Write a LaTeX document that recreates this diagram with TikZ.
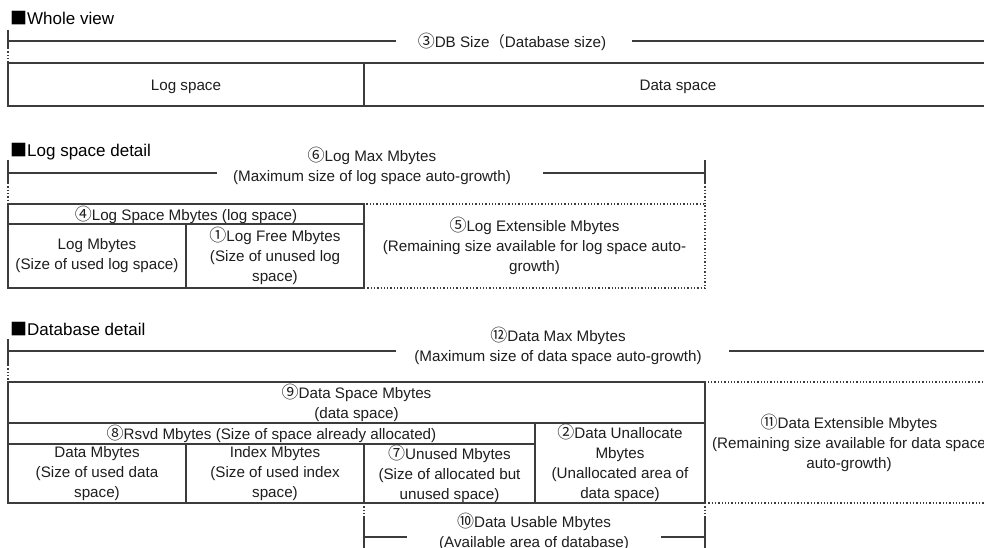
\documentclass[tikz,border=0pt]{standalone}
\usepackage{fontspec}
\setmainfont{Liberation Sans}
\newfontfamily\cjk{Noto Sans CJK JP}
\usetikzlibrary{positioning}
\definecolor{LineGray}{RGB}{60,60,60}
\definecolor{InkGray}{RGB}{30,30,30}
\newcommand{\dbfont}{\fontsize{15.2pt}{20pt}\selectfont}
\newcommand{\dbhead}{\fontsize{17pt}{20pt}\selectfont}
\newcommand{\cn}[1]{{\cjk\fontsize{17pt}{20pt}\selectfont #1}}
\newcommand{\sq}{{\cjk ■}}
\tikzset{
  cell/.style={draw=LineGray,line width=1.3pt,inner sep=0pt,align=center,
    text=InkGray,font=\dbfont,execute at begin node={\rule{0pt}{15.5pt}}},
  spare/.style={draw=LineGray,line width=1.3pt,dotted,inner sep=0pt,
    align=center,text=InkGray,font=\dbfont,
    execute at begin node={\rule{0pt}{15.5pt}}},
  dimtext/.style={inner sep=0pt,align=center,text=InkGray,font=\dbfont},
  heading/.style={anchor=west,inner sep=0pt,text=black,font=\dbhead},
  dim/.style={draw=LineGray,line width=1.3pt},
  dimdot/.style={draw=LineGray,line width=1.3pt,dotted}
}

\begin{document}
\begin{tikzpicture}[x=1pt,y=-1pt]
\useasboundingbox (0,0) rectangle (984,548);
\clip (0,0) rectangle (984,548);
\fill[white] (0,0) rectangle (984,548);

% Whole view
\node[heading] (hwhole) at (10,18) {\sq Whole view};
\node[dimtext] (dbsize) at (512,42) {\cn{③}DB Size{\cjk （}Database size)};
\coordinate (dbL) at (396,41);
\coordinate (dbR) at (632,41);
\draw[dim] (8,30) -- (8,48);
\draw[dimdot] (8,48) -- (8,63);
\draw[dim] (8,41) -- (dbL);
\draw[dim] (dbR) -- (1000,41);
\node[cell,minimum width=356pt,minimum height=43pt] (logsp) at (186,84.5) {Log space};
\node[cell,minimum width=628pt,minimum height=43pt] (datasp) at (678,84.5) {Data space};

% Log space detail
\node[heading] (hlog) at (10,152) {\sq Log space detail};
\node[dimtext] (logmax) at (372,166)
  {\cn{⑥}Log Max Mbytes\\(Maximum size of log space auto-growth)};
\coordinate (lmL) at (217,173);
\coordinate (lmR) at (543,173);
\foreach \x in {8,705}{
  \draw[dim] (\x,160) -- (\x,183);
  \draw[dimdot] (\x,183) -- (\x,204);
}
\draw[dim] (8,173) -- (lmL);
\draw[dim] (lmR) -- (705,173);
\node[spare,minimum width=341pt,minimum height=84pt] (logext) at (534.5,246)
  {\cn{⑤}Log Extensible Mbytes\\(Remaining size available for log space auto-\\growth)};
\node[cell,minimum width=356pt,minimum height=20pt] (logspc) at (186,214)
  {\cn{④}Log Space Mbytes (log space)};
\node[cell,minimum width=178pt,minimum height=64pt] (logmb) at (97,256)
  {Log Mbytes\\(Size of used log space)};
\node[cell,minimum width=178pt,minimum height=64pt] (logfree) at (275,256)
  {\cn{①}Log Free Mbytes\\(Size of unused log\\space)};

% Database detail
\node[heading] (hdb) at (10,329) {\sq Database detail};
\node[dimtext] (datamax) at (558,346)
  {\cn{⑫}Data Max Mbytes\\(Maximum size of data space auto-growth)};
\coordinate (dmL) at (396,351);
\coordinate (dmR) at (729,351);
\draw[dim] (8,339) -- (8,365);
\draw[dimdot] (8,365) -- (8,382);
\draw[dim] (8,351) -- (dmL);
\draw[dim] (dmR) -- (1000,351);
\node[spare,minimum width=288pt,minimum height=121pt] (dataext) at (849,442.5)
  {\cn{⑪}Data Extensible Mbytes\\(Remaining size available for data space\\auto-growth)};
\node[cell,minimum width=697pt,minimum height=41pt] (dataspc) at (356.5,402.5)
  {\cn{⑨}Data Space Mbytes\\(data space)};
\node[cell,minimum width=527pt,minimum height=21pt] (rsvd) at (271.5,433.5)
  {\cn{⑧}Rsvd Mbytes (Size of space already allocated)};
\node[cell,minimum width=178pt,minimum height=59pt] (datamb) at (97,473.5)
  {Data Mbytes\\(Size of used data\\space)};
\node[cell,minimum width=178pt,minimum height=59pt] (indexmb) at (275,473.5)
  {Index Mbytes\\(Size of used index\\space)};
\node[cell,minimum width=171pt,minimum height=59pt] (unused) at (449.5,473.5)
  {\cn{⑦}Unused Mbytes\\(Size of allocated but\\unused space)};
\node[cell,minimum width=170pt,minimum height=80pt] (unalloc) at (620,463)
  {\cn{②}Data Unallocate\\Mbytes\\(Unallocated area of\\data space)};

% Data usable
\node[dimtext] (usable) at (534,532)
  {\cn{⑩}Data Usable Mbytes\\(Available area of database)};
\coordinate (duL) at (407,537);
\coordinate (duR) at (661,537);
\foreach \x in {364,705}{
  \draw[dimdot] (\x,503) -- (\x,518);
  \draw[dim] (\x,518) -- (\x,552);
}
\draw[dim] (364,537) -- (duL);
\draw[dim] (duR) -- (705,537);
\end{tikzpicture}
\end{document}
